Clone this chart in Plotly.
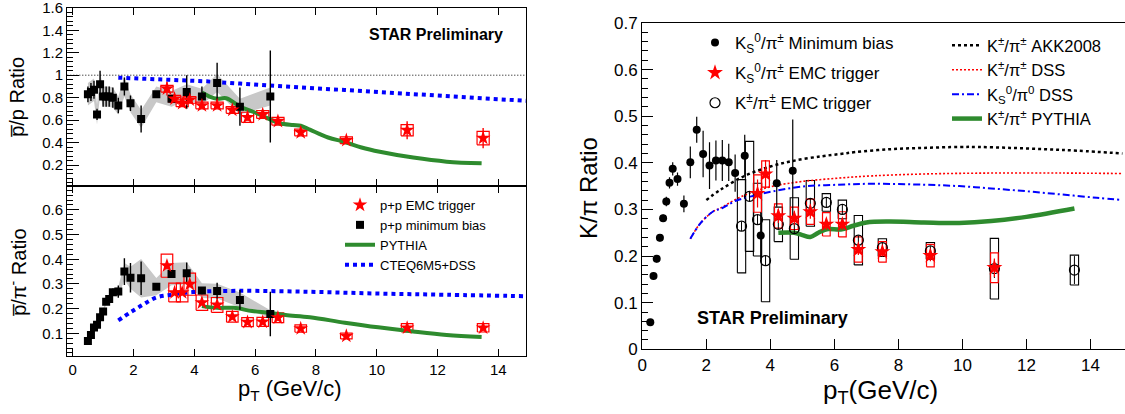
import plotly.graph_objects as go

# ---------------- Left panels: pbar/p and pbar/pi- ----------------
mb_pt = [0.5, 0.6, 0.7, 0.8, 0.9, 1.0, 1.1, 1.2, 1.32, 1.5, 1.7, 1.9, 2.25, 2.75, 3.25, 3.75, 4.25, 4.75, 5.5, 6.5]
pbarp_mb = [0.83, 0.85, 0.87, 0.65, 0.92, 0.81, 0.81, 0.81, 0.80, 0.73, 0.90, 0.75, 0.61, 0.83, 0.79, 0.85, 0.81, 0.93, 0.72, 0.81]
pbarp_mb_stat = [0.07, 0.08, 0.08, 0.05, 0.12, 0.09, 0.09, 0.09, 0.09, 0.07, 0.08, 0.07, 0.12, 0.02, 0.02, 0.15, 0.09, 0.18, 0.17, 0.41]
pbarp_mb_sys = [0.10, 0.10, 0.10, 0.09, 0.10, 0.09, 0.09, 0.09, 0.09, 0.08, 0.09, 0.08, 0.08, 0.07, 0.07, 0.07, 0.07, 0.08, 0.07, 0.08]

emc_pt = [3.1, 3.35, 3.6, 3.85, 4.25, 4.75, 5.25, 5.75, 6.25, 6.75, 7.5, 9.0, 11.0, 13.5]
pbarp_emc = [0.88, 0.79, 0.75, 0.78, 0.73, 0.73, 0.69, 0.625, 0.65, 0.59, 0.49, 0.42, 0.51, 0.44]
pbarp_emc_stat = [0.06, 0.03, 0.03, 0.03, 0.02, 0.02, 0.03, 0.03, 0.04, 0.03, 0.02, 0.03, 0.08, 0.09]
pbarp_emc_sys = [0.03, 0.03, 0.03, 0.03, 0.03, 0.03, 0.03, 0.045, 0.035, 0.035, 0.03, 0.03, 0.05, 0.06]

pbarp_pythia_pt = [4.25, 4.5, 4.75, 5.05, 5.5, 5.95, 6.4, 6.8, 7.25, 7.5, 7.8, 8.4, 8.95, 9.5, 10.1, 11.2, 12.3, 13.45]
pbarp_pythia = [0.845, 0.81, 0.79, 0.795, 0.72, 0.672, 0.618, 0.572, 0.556, 0.55, 0.515, 0.445, 0.405, 0.356, 0.318, 0.266, 0.23, 0.215]
pbarp_cteq_pt = [1.5, 3.0, 4.4, 5.5, 6.45, 7.5, 8.95, 10.0, 11.2, 12.5, 14.0, 15.0]
pbarp_cteq = [0.978, 0.962, 0.945, 0.925, 0.905, 0.89, 0.868, 0.852, 0.83, 0.81, 0.785, 0.77]
unity = 1.0

pbarpi_mb = [0.069, 0.093, 0.123, 0.134, 0.165, 0.188, 0.228, 0.239, 0.266, 0.269, 0.35, 0.325, 0.323, 0.289, 0.34, 0.343, 0.273, 0.271, 0.235, 0.178]
pbarpi_mb_stat = [0.004, 0.005, 0.006, 0.006, 0.007, 0.008, 0.01, 0.012, 0.015, 0.025, 0.054, 0.06, 0.068, 0.008, 0.01, 0.044, 0.015, 0.034, 0.04, 0.09]
pbarpi_mb_sys = [0.004, 0.005, 0.006, 0.007, 0.008, 0.009, 0.011, 0.012, 0.015, 0.02, 0.035, 0.045, 0.078, 0.035, 0.045, 0.045, 0.03, 0.03, 0.03, 0.015]

pbarpi_emc = [0.374, 0.265, 0.265, 0.299, 0.224, 0.215, 0.167, 0.145, 0.146, 0.163, 0.119, 0.089, 0.122, 0.122]
pbarpi_emc_stat = [0.015, 0.01, 0.01, 0.012, 0.008, 0.008, 0.006, 0.006, 0.006, 0.006, 0.005, 0.005, 0.008, 0.008]
pbarpi_emc_sys = [0.047, 0.038, 0.038, 0.045, 0.031, 0.03, 0.022, 0.018, 0.018, 0.02, 0.015, 0.012, 0.017, 0.017]

pbarpi_pythia_pt = [4.25, 4.75, 5.3, 5.9, 6.45, 7.0, 7.8, 8.95, 10.05, 11.2, 12.3, 13.45]
pbarpi_pythia = [0.21, 0.203, 0.203, 0.19, 0.183, 0.174, 0.165, 0.143, 0.124, 0.107, 0.093, 0.085]
pbarpi_cteq_pt = [1.5, 1.9, 2.3, 2.75, 3.3, 3.95, 5.5, 7.8, 10.05, 12.3, 15.0]
pbarpi_cteq = [0.152, 0.185, 0.215, 0.245, 0.257, 0.267, 0.272, 0.268, 0.261, 0.256, 0.25]

# ---------------- Right panel: K/pi ----------------
k0_mb_pt = [0.25, 0.35, 0.45, 0.55, 0.65, 0.75, 0.85, 0.95, 1.1, 1.3, 1.5, 1.7, 1.9, 2.1, 2.3, 2.5, 2.7, 2.9, 3.2, 3.7, 4.2, 4.7]
k0pi_mb = [0.058, 0.157, 0.194, 0.239, 0.281, 0.317, 0.357, 0.387, 0.365, 0.312, 0.401, 0.471, 0.419, 0.394, 0.405, 0.405, 0.401, 0.378, 0.415, 0.244, 0.356, 0.383]
k0pi_mb_stat = [0.004, 0.008, 0.008, 0.008, 0.008, 0.01, 0.012, 0.014, 0.014, 0.018, 0.034, 0.028, 0.05, 0.05, 0.043, 0.044, 0.04, 0.04, 0.045, 0.05, 0.05, 0.11]

k0_emc_pt = [3.6, 3.85, 4.25, 4.75, 5.25, 5.75, 6.25, 6.75, 7.5, 9.0, 11.0]
k0pi_emc = [0.334, 0.376, 0.286, 0.281, 0.295, 0.268, 0.268, 0.214, 0.209, 0.201, 0.175]
k0pi_emc_stat = [0.03, 0.03, 0.015, 0.015, 0.015, 0.012, 0.012, 0.012, 0.01, 0.012, 0.02]
k0pi_emc_sys = [0.04, 0.028, 0.026, 0.024, 0.027, 0.025, 0.027, 0.027, 0.022, 0.024, 0.032]

kch_emc_pt = [3.1, 3.35, 3.6, 3.85, 4.25, 4.75, 5.25, 5.75, 6.25, 6.75, 7.5, 9.0, 11.0, 13.5]
kchpi_emc = [0.264, 0.328, 0.278, 0.19, 0.268, 0.259, 0.313, 0.315, 0.30, 0.234, 0.218, 0.211, 0.173, 0.17]
kchpi_emc_stat = [0.01, 0.01, 0.01, 0.01, 0.01, 0.01, 0.01, 0.01, 0.01, 0.01, 0.01, 0.01, 0.02, 0.03]
kchpi_emc_sys = [0.10, 0.118, 0.078, 0.088, 0.037, 0.066, 0.049, 0.019, 0.02, 0.053, 0.019, 0.018, 0.065, 0.032]

akk_pt = [2.0, 2.44, 3.2, 4.0, 4.7, 5.6, 6.2, 6.65, 7.7, 8.8, 9.9, 10.5, 11.5, 12.6, 13.6, 15.0]
akk = [0.32, 0.342, 0.372, 0.392, 0.404, 0.414, 0.419, 0.423, 0.429, 0.432, 0.434, 0.434, 0.432, 0.429, 0.426, 0.42]
dss_pt = [1.5, 1.8, 2.2, 2.5, 2.9, 3.4, 4.1, 5.0, 6.1, 7.2, 8.8, 10.9, 13.1, 15.0]
dss = [0.237, 0.269, 0.295, 0.305, 0.321, 0.336, 0.35, 0.36, 0.367, 0.372, 0.376, 0.378, 0.378, 0.377]
dss_k0_pt = [1.5, 1.8, 2.2, 2.5, 2.9, 3.4, 4.1, 5.0, 6.1, 7.2, 8.8, 9.9, 10.9, 12.0, 13.1, 14.2, 15.0]
dss_k0 = [0.237, 0.269, 0.295, 0.303, 0.318, 0.328, 0.339, 0.349, 0.353, 0.355, 0.353, 0.35, 0.345, 0.339, 0.332, 0.325, 0.32]
kpi_pythia_pt = [4.25, 4.75, 5.0, 5.25, 5.5, 5.8, 6.2, 6.6, 7.0, 7.7, 8.8, 9.9, 10.9, 12.0, 13.5]
kpi_pythia = [0.25, 0.25, 0.245, 0.241, 0.25, 0.258, 0.257, 0.265, 0.272, 0.274, 0.272, 0.271, 0.275, 0.284, 0.302]

# ---------------- styling ----------------
FONT = "Liberation Sans"
RED = "#ff0000"
BLUE = "#0000ff"
GREEN = "#2e8b2e"
GREY = "#c8c8c8"
W, H = 1125, 414


def boxes(xs, ys, sys, hw):
    bx, by = [], []
    for x, y, s in zip(xs, ys, sys):
        bx += [x - hw, x + hw, x + hw, x - hw, x - hw, None]
        by += [y - s, y - s, y + s, y + s, y - s, None]
    return bx, by


def band(xs, ys, sys):
    up = [y + s for y, s in zip(ys, sys)]
    lo = [y - s for y, s in zip(ys, sys)]
    return list(xs) + list(xs)[::-1], up + lo[::-1]


fig = go.Figure()

# ---- top-left: pbar/p ----
bx, by = band(mb_pt, pbarp_mb, pbarp_mb_sys)
fig.add_trace(go.Scatter(x=bx, y=by, fill="toself", fillcolor=GREY, line=dict(width=0),
                         mode="lines", showlegend=False, xaxis="x", yaxis="y", hoverinfo="skip"))
bx, by = boxes(emc_pt, pbarp_emc, pbarp_emc_sys, 0.2)
fig.add_trace(go.Scatter(x=bx, y=by, mode="lines", line=dict(color=RED, width=1.2),
                         showlegend=False, xaxis="x", yaxis="y", hoverinfo="skip"))
fig.add_trace(go.Scatter(x=pbarp_cteq_pt, y=pbarp_cteq, mode="lines", line=dict(color=BLUE, width=4, dash="dot"),
                         showlegend=False, xaxis="x", yaxis="y"))
fig.add_trace(go.Scatter(x=pbarp_pythia_pt, y=pbarp_pythia, mode="lines", line=dict(color=GREEN, width=4, shape="spline"),
                         showlegend=False, xaxis="x", yaxis="y"))
fig.add_trace(go.Scatter(x=mb_pt, y=pbarp_mb, mode="markers",
                         marker=dict(symbol="square", size=8, color="black"),
                         error_y=dict(type="data", array=pbarp_mb_stat, color="black", thickness=1.4, width=0),
                         showlegend=False, xaxis="x", yaxis="y"))
fig.add_trace(go.Scatter(x=emc_pt, y=pbarp_emc, mode="markers",
                         marker=dict(symbol="star", size=11, color=RED),
                         error_y=dict(type="data", array=pbarp_emc_stat, color=RED, thickness=1.4, width=0),
                         showlegend=False, xaxis="x", yaxis="y"))

# ---- bottom-left: pbar/pi- ----
bx, by = band(mb_pt, pbarpi_mb, pbarpi_mb_sys)
fig.add_trace(go.Scatter(x=bx, y=by, fill="toself", fillcolor=GREY, line=dict(width=0),
                         mode="lines", showlegend=False, xaxis="x2", yaxis="y2", hoverinfo="skip"))
bx, by = boxes(emc_pt, pbarpi_emc, pbarpi_emc_sys, 0.19)
fig.add_trace(go.Scatter(x=bx, y=by, mode="lines", line=dict(color=RED, width=1.2),
                         showlegend=False, xaxis="x2", yaxis="y2", hoverinfo="skip"))
fig.add_trace(go.Scatter(x=pbarpi_cteq_pt, y=pbarpi_cteq, mode="lines", name="CTEQ6M5+DSS",
                         line=dict(color=BLUE, width=4, dash="dot", shape="spline"),
                         legend="legend", legendrank=4, xaxis="x2", yaxis="y2"))
fig.add_trace(go.Scatter(x=pbarpi_pythia_pt, y=pbarpi_pythia, mode="lines", name="PYTHIA",
                         line=dict(color=GREEN, width=4, shape="spline"),
                         legend="legend", legendrank=3, xaxis="x2", yaxis="y2"))
fig.add_trace(go.Scatter(x=mb_pt, y=pbarpi_mb, mode="markers", name="p+p minimum bias",
                         marker=dict(symbol="square", size=8, color="black"),
                         error_y=dict(type="data", array=pbarpi_mb_stat, color="black", thickness=1.4, width=0),
                         legend="legend", legendrank=2, xaxis="x2", yaxis="y2"))
fig.add_trace(go.Scatter(x=emc_pt, y=pbarpi_emc, mode="markers", name="p+p EMC trigger",
                         marker=dict(symbol="star", size=11, color=RED),
                         error_y=dict(type="data", array=pbarpi_emc_stat, color=RED, thickness=1.4, width=0),
                         legend="legend", legendrank=1, xaxis="x2", yaxis="y2"))

# ---- right: K/pi ----
bx, by = boxes(kch_emc_pt, kchpi_emc, kchpi_emc_sys, 0.13)
fig.add_trace(go.Scatter(x=bx, y=by, mode="lines", line=dict(color="black", width=1.1),
                         showlegend=False, xaxis="x3", yaxis="y3", hoverinfo="skip"))
bx, by = boxes(k0_emc_pt, k0pi_emc, k0pi_emc_sys, 0.12)
fig.add_trace(go.Scatter(x=bx, y=by, mode="lines", line=dict(color=RED, width=1.2),
                         showlegend=False, xaxis="x3", yaxis="y3", hoverinfo="skip"))
fig.add_trace(go.Scatter(x=akk_pt, y=akk, mode="lines", name="K<sup>±</sup>/π<sup>±</sup> AKK2008",
                         line=dict(color="black", width=2.5, dash="3px,3px", shape="spline"),
                         legend="legend3", legendrank=1, xaxis="x3", yaxis="y3"))
fig.add_trace(go.Scatter(x=dss_pt, y=dss, mode="lines", name="K<sup>±</sup>/π<sup>±</sup> DSS",
                         line=dict(color=RED, width=1.6, dash="2px,2px", shape="spline"),
                         legend="legend3", legendrank=2, xaxis="x3", yaxis="y3"))
fig.add_trace(go.Scatter(x=dss_k0_pt, y=dss_k0, mode="lines", name="K<sub>S</sub><sup>0</sup>/π<sup>0</sup> DSS",
                         line=dict(color=BLUE, width=2, dash="7px,3px,2px,3px", shape="spline"),
                         legend="legend3", legendrank=3, xaxis="x3", yaxis="y3"))
fig.add_trace(go.Scatter(x=kpi_pythia_pt, y=kpi_pythia, mode="lines", name="K<sup>±</sup>/π<sup>±</sup> PYTHIA",
                         line=dict(color=GREEN, width=4.5, shape="spline"),
                         legend="legend3", legendrank=4, xaxis="x3", yaxis="y3"))
fig.add_trace(go.Scatter(x=k0_mb_pt, y=k0pi_mb, mode="markers", name="K<sub>S</sub><sup>0</sup>/π<sup>±</sup> Minimum bias",
                         marker=dict(symbol="circle", size=8, color="black"),
                         error_y=dict(type="data", array=k0pi_mb_stat, color="black", thickness=1.2, width=0),
                         legend="legend2", legendgroup="g_mb", legendrank=1, xaxis="x3", yaxis="y3"))
fig.add_trace(go.Scatter(x=kch_emc_pt, y=kchpi_emc, mode="markers", name="K<sup>±</sup>/π<sup>±</sup> EMC trigger",
                         marker=dict(symbol="circle-open", size=10, color="black", line=dict(width=1.2)),
                         error_y=dict(type="data", array=kchpi_emc_stat, color="black", thickness=1, width=0),
                         legend="legend2", legendgroup="g_kch", legendrank=3, xaxis="x3", yaxis="y3"))
fig.add_trace(go.Scatter(x=k0_emc_pt, y=k0pi_emc, mode="markers", name="K<sub>S</sub><sup>0</sup>/π<sup>±</sup> EMC trigger",
                         marker=dict(symbol="star", size=12, color=RED),
                         error_y=dict(type="data", array=k0pi_emc_stat, color=RED, thickness=1.2, width=0),
                         legend="legend2", legendgroup="g_k0", legendrank=2, xaxis="x3", yaxis="y3"))

# ---------------- layout ----------------
def px_x(p):
    return p / W


def px_y(p):
    return 1 - p / H


axis_common = dict(showline=True, linecolor="black", linewidth=1.3, ticks="inside", tickcolor="black",
                   showgrid=False, zeroline=False, automargin=False, ticklabeloverflow="allow",
                   tickfont=dict(family=FONT, size=15, color="black"))

left_dom = [px_x(67.3), px_x(526)]
left_range = [-0.178, 14.91]

fig.update_layout(
    width=W, height=H,
    margin=dict(l=0, r=0, t=0, b=0, autoexpand=False),
    paper_bgcolor="white", plot_bgcolor="white",
    font=dict(family=FONT, color="black"),
    xaxis=dict(axis_common, domain=left_dom, range=left_range, anchor="y", dtick=2, tick0=0, ticklen=7,
               showticklabels=False, mirror="allticks"),
    yaxis=dict(axis_common, domain=[px_y(186), px_y(7.5)], range=[0.013, 1.603], anchor="x",
               dtick=0.2, tick0=0, ticklen=12, mirror=True,
               minor=dict(ticks="inside", dtick=0.04, ticklen=6, tickcolor="black")),
    xaxis2=dict(axis_common, domain=left_dom, range=left_range, anchor="y2", dtick=2, tick0=0, ticklen=7,
                mirror="allticks"),
    yaxis2=dict(axis_common, domain=[px_y(355.7), px_y(186)], range=[0.009, 0.697], anchor="x2",
                dtick=0.1, tick0=0, ticklen=12, mirror=True,
                minor=dict(ticks="inside", dtick=0.02, ticklen=6, tickcolor="black")),
    xaxis3=dict(axis_common, domain=[px_x(642.3), 1.0], range=[0, 15.08], anchor="y3", dtick=2, tick0=0,
                ticklen=10, mirror=True, tickfont=dict(family=FONT, size=17, color="black")),
    yaxis3=dict(axis_common, domain=[px_y(349.3), px_y(22.7)], range=[0, 0.7005], anchor="x3",
                dtick=0.1, tick0=0, ticklen=11, tickfont=dict(family=FONT, size=17, color="black"),
                minor=dict(ticks="inside", dtick=0.02, ticklen=6, tickcolor="black")),
    legend=dict(x=px_x(340), y=px_y(190), xanchor="left", yanchor="top", bgcolor="rgba(0,0,0,0)",
                font=dict(family=FONT, size=13, color="black"), traceorder="normal"),
    legend2=dict(x=px_x(695), y=px_y(25), xanchor="left", yanchor="top", bgcolor="rgba(0,0,0,0)",
                 font=dict(family=FONT, size=17, color="black"), traceorder="grouped", tracegroupgap=5),
    legend3=dict(x=px_x(947), y=px_y(28), xanchor="left", yanchor="top", bgcolor="rgba(0,0,0,0)",
                 font=dict(family=FONT, size=16.5, color="black"), traceorder="normal"),
    shapes=[dict(type="line", xref="x domain", yref="y", x0=0, x1=1, y0=unity, y1=unity,
                 line=dict(color="black", width=1, dash="1px,2px"))],
)

ann = [
    dict(text="p\u0305/p Ratio", x=px_x(17), y=px_y(97), textangle=-90, size=20),
    dict(text="p\u0305/π<sup>-</sup> Ratio", x=px_x(17), y=px_y(272), textangle=-90, size=20),
    dict(text="K/π Ratio", x=px_x(588), y=px_y(188), textangle=-90, size=24),
    dict(text="p<sub>T</sub> (GeV/c)", x=px_x(290), y=px_y(390), textangle=0, size=22),
    dict(text="p<sub>T</sub>(GeV/c)", x=px_x(880), y=px_y(391), textangle=0, size=26),
    dict(text="<b>STAR Preliminary</b>", x=px_x(436), y=px_y(34), textangle=0, size=16),
    dict(text="<b>STAR Preliminary</b>", x=px_x(772), y=px_y(318), textangle=0, size=18),
]
for a in ann:
    fig.add_annotation(text=a["text"], x=a["x"], y=a["y"], xref="paper", yref="paper",
                       xanchor="center", yanchor="middle", textangle=a["textangle"], showarrow=False,
                       font=dict(family=FONT, size=a["size"], color="black"))

fig.write_html("out.html", config={"displayModeBar": False},
               post_script="document.body.style.margin='0';document.body.style.overflow='hidden';")
